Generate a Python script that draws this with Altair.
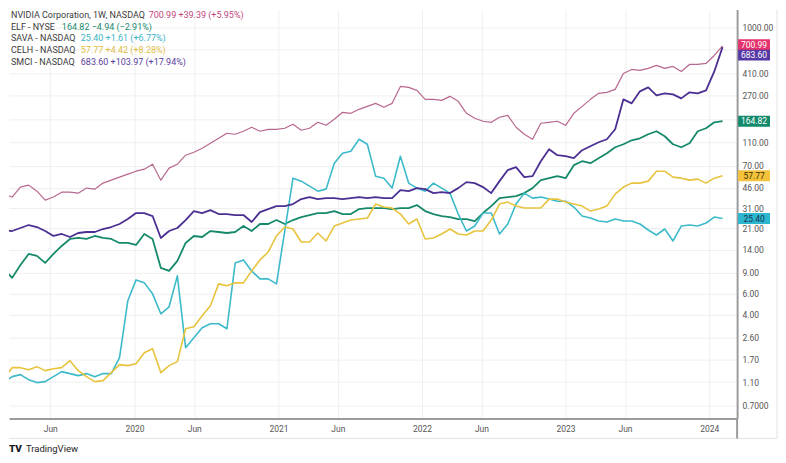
import altair as alt
import pandas as pd

# ---------------- data (weekly chart, sampled every 3 weeks) ----------------
dates = pd.date_range("2019-02-03", periods=88, freq="21D").strftime("%Y-%m-%dT00:00:00Z").tolist()

nvda = [40.6, 38.4, 46.5, 48.3, 43.0, 36.2, 38.4, 42.2, 42.2, 41.4,
        45.6, 44.7, 50.2, 53.1, 56.3, 59.6, 63.1, 65.6, 72.2, 53.1,
        66.9, 72.2, 85.8, 90.9, 98.1, 108.0, 118.8, 130.8, 128.3, 135.9,
        146.7, 135.9, 141.1, 141.1, 143.9, 155.4, 138.5, 143.9, 161.4, 152.4,
        171.0, 195.5, 191.8, 207.1, 219.3, 232.3, 215.2, 232.3, 321.7, 315.6,
        298.0, 250.8, 250.8, 246.1, 265.7, 241.4, 191.8, 174.3, 164.6, 161.4,
        177.7, 184.6, 146.7, 128.3, 116.6, 158.4, 161.4, 164.6, 152.4, 191.8,
        219.3, 250.8, 281.4, 287.0, 303.8, 412.7, 445.7, 437.1, 454.2, 481.1,
        454.2, 472.0, 428.8, 490.3, 490.3, 499.8, 582.6, 700.99]

elf = [9.66, 8.13, 10.43, 12.88, 12.40, 10.84, 12.88, 15.01, 17.17, 17.50,
       17.17, 18.18, 17.50, 17.17, 15.90, 15.90, 15.30, 18.89, 17.17, 9.85,
       9.30, 11.26, 15.90, 18.18, 17.83, 20.00, 19.63, 19.25, 19.63, 22.02,
       20.00, 22.88, 22.88, 24.70, 22.88, 24.70, 26.16, 27.18, 28.24, 28.24,
       29.34, 27.71, 27.71, 30.49, 31.08, 31.08, 31.08, 30.49, 31.08, 31.08,
       32.92, 29.34, 27.71, 26.67, 26.16, 25.18, 25.18, 24.23, 28.24, 32.29,
       37.64, 38.38, 39.12, 41.43, 45.60, 53.14, 55.21, 57.37, 55.21, 70.83,
       76.45, 73.57, 80.99, 89.13, 100.0, 105.9, 114.3, 118.8, 128.3, 135.9,
       123.5, 105.9, 100.0, 108.0, 135.9, 143.9, 161.4, 164.82]

sava = [1.088, 1.220, 1.268, 1.152, 1.088, 1.109, 1.220, 1.343, 1.293, 1.244,
        1.293, 1.220, 1.293, 1.293, 1.757, 5.234, 7.825, 7.390, 5.984, 4.080,
        4.667, 8.448, 2.127, 2.576, 3.120, 3.369, 3.369, 3.061, 10.84, 11.48,
        9.297, 7.977, 7.977, 7.250, 20.00, 55.21, 52.14, 47.37, 43.0, 44.7,
        73.57, 89.13, 92.6, 116.6, 105.9, 57.37, 55.21, 45.6, 84.17, 50.2,
        45.6, 43.0, 50.2, 45.6, 41.43, 27.71, 20.00, 22.02, 28.24, 28.24,
        18.89, 22.88, 33.55, 41.43, 37.64, 38.38, 36.93, 35.48, 35.48, 31.68,
        26.67, 25.66, 24.23, 23.77, 25.18, 24.23, 24.23, 22.88, 20.39, 18.53,
        20.79, 16.52, 22.02, 22.44, 22.02, 23.33, 26.16, 25.40]

celh = [1.175, 1.450, 1.450, 1.395, 1.478, 1.369, 1.422, 1.450, 1.658, 1.369,
        1.220, 1.109, 1.130, 1.318, 1.536, 1.507, 1.565, 1.932, 2.086, 1.318,
        1.507, 1.627, 3.061, 3.180, 3.926, 4.755, 7.250, 6.978, 7.390, 7.390,
        9.297, 11.48, 13.38, 18.18, 21.60, 20.79, 16.20, 16.20, 19.25, 16.52,
        22.02, 23.33, 24.70, 25.18, 25.66, 33.55, 31.68, 31.08, 27.71, 22.88,
        25.18, 17.17, 17.50, 18.89, 20.79, 18.89, 18.53, 20.00, 20.00, 24.70,
        33.55, 34.86, 32.29, 31.08, 31.08, 31.08, 36.93, 36.93, 34.86, 33.55,
        32.29, 29.34, 30.49, 32.29, 40.64, 46.5, 50.2, 50.2, 52.14, 63.1,
        63.1, 56.3, 55.21, 53.14, 54.17, 50.2, 55.21, 57.77]

smci = [20.39, 20.00, 21.19, 22.44, 21.60, 20.00, 18.18, 18.89, 17.83, 19.25,
        19.63, 19.63, 20.79, 21.60, 22.88, 25.18, 28.24, 28.24, 26.67, 17.50,
        20.00, 21.19, 24.70, 29.34, 28.24, 29.91, 27.71, 27.71, 27.18, 27.18,
        23.77, 28.79, 30.49, 32.29, 32.29, 33.55, 36.93, 38.38, 36.93, 37.64,
        37.64, 36.93, 37.64, 38.38, 37.64, 38.38, 37.64, 37.64, 43.87, 43.0,
        45.60, 44.7, 41.43, 42.2, 41.43, 45.60, 51.16, 50.2, 46.5, 41.43,
        52.14, 64.5, 68.2, 56.3, 57.4, 76.45, 96.24, 85.8, 84.17, 80.99,
        94.41, 101.9, 110.0, 116.6, 141.1, 250.8, 232.3, 292.4, 315.6, 270.7,
        281.4, 276.0, 255.6, 287.0, 281.4, 298.0, 428.8, 683.60]

legend_names = ["NVIDIA Corporation, 1W, NASDAQ", "ELF - NYSE", "SAVA - NASDAQ",
                "CELH - NASDAQ", "SMCI - NASDAQ"]
legend_values = ["700.99  +39.39 (+5.95%)", "164.82  \u22124.94 (\u22122.91%)",
                 "25.40  +1.61 (+6.77%)", "57.77  +4.42 (+8.28%)",
                 "683.60  +103.97 (+17.94%)"]
last_prices = [700.99, 164.82, 25.40, 57.77, 683.60]

price_ticks = [1000, 650, 410, 270, 170, 110, 70, 46, 31, 21, 14, 9, 6, 4, 2.6, 1.7, 1.1, 0.7]
date_ticks = [(2019, 6), (2020, 1), (2020, 6), (2021, 1), (2021, 6), (2022, 1),
              (2022, 6), (2023, 1), (2023, 6), (2024, 1)]

# ---------------- styling ----------------
W, H = 730, 410
FONT = "Roboto, sans-serif"
series = [  # values, line colour, width, legend colour, box fill, box text colour
    (nvda, "#b8688f", 1.2, "#c4457d", "#e5336d", "#ffffff"),
    (elf, "#17896b", 1.8, "#1a8a6e", "#138a6b", "#ffffff"),
    (sava, "#3dbaca", 1.6, "#3ab4c6", "#2ab7cf", "#17324f"),
    (celh, "#e7c33e", 1.6, "#e0bd45", "#f4c33b", "#3a2e00"),
    (smci, "#4b2f92", 1.8, "#5a3c9c", "#5637a6", "#ffffff"),
]
box_dy = [-1, 0, 0, 0, 8]
legend_x = [140, 53, 72, 72, 72]

x_enc = alt.X(
    "date:T",
    scale=alt.Scale(type="utc",
                    domain=[alt.DateTime(year=2019, month=2, date=16, utc=True),
                            alt.DateTime(year=2024, month=3, date=12, utc=True)]),
    axis=alt.Axis(
        values=[alt.DateTime(year=y, month=m, date=1, utc=True) for y, m in date_ticks],
        labelExpr="utcFormat(datum.value, '%m') == '01' ? utcFormat(datum.value, '%Y') : utcFormat(datum.value, '%b')",
        title=None, grid=True, gridColor="#efefef", gridWidth=1,
        domainColor="#9c9c9c", domainWidth=2, ticks=False, labelPadding=6,
        labelFont=FONT, labelFontSize=8.5, labelColor="#555555", labelFlush=False,
    ),
)
y_enc = alt.Y(
    "value:Q",
    scale=alt.Scale(type="log", domain=[0.5459, 1406.6], nice=False, zero=False),
    axis=alt.Axis(
        orient="right", values=price_ticks,
        labelExpr="indexof([650,170], datum.value) >= 0 ? '' : (datum.value < 1 ? format(datum.value, '.4f') : format(datum.value, '.2f'))",
        title=None, grid=True, gridColor="#efefef", gridWidth=1,
        domainColor="#9c9c9c", domainWidth=2, ticks=False, labelPadding=5,
        labelFont=FONT, labelFontSize=8.5, labelColor="#555555", labelAlign="left",
        labelBaseline="middle", labelFlush=False, labelOverlap=False,
    ),
)

layers = []
for vals, lc, lw, _, _, _ in series:
    df = pd.DataFrame({"date": dates, "value": vals})
    layers.append(alt.Chart(df).mark_line(color=lc, strokeWidth=lw, clip=True,
                                          strokeJoin="round").encode(x=x_enc, y=y_enc))

# price boxes on the right scale
for (vals, _, _, _, fill, tcol), price, dy in zip(series, last_prices, box_dy):
    dfl = pd.DataFrame({"value": [price], "label": [f"{price:.2f}"]})
    layers.append(alt.Chart(dfl).mark_tick(orient="horizontal", size=32, thickness=11,
                                           color=fill, opacity=1, yOffset=dy)
                  .encode(y=y_enc, x=alt.value(747)))
    layers.append(alt.Chart(dfl).mark_text(color=tcol, fontSize=8.5, font=FONT, dy=dy,
                                           align="center", baseline="middle")
                  .encode(y=y_enc, x=alt.value(747), text="label:N"))

# legend (top left)
for i, (nm, vt, s, lx) in enumerate(zip(legend_names, legend_values, series, legend_x)):
    dname = pd.DataFrame({"t": [nm]})
    dval = pd.DataFrame({"t": [vt]})
    ypx = 5 + 12 * i
    layers.append(alt.Chart(dname).mark_text(align="left", baseline="middle", fontSize=9,
                                             font=FONT, color="#3c3c3c")
                  .encode(x=alt.value(2), y=alt.value(ypx), text="t:N"))
    layers.append(alt.Chart(dval).mark_text(align="left", baseline="middle", fontSize=9,
                                            font=FONT, color=s[3])
                  .encode(x=alt.value(lx), y=alt.value(ypx), text="t:N"))

# frame pieces
frame = pd.DataFrame({"k": [0]})
layers.append(alt.Chart(frame).mark_rule(color="#e3e3e3", strokeWidth=1)
              .encode(x=alt.value(0), x2=alt.value(770), y=alt.value(430)))
layers.append(alt.Chart(frame).mark_rule(color="#e3e3e3", strokeWidth=1)
              .encode(x=alt.value(770), y=alt.value(0), y2=alt.value(430)))
layers.append(alt.Chart(frame).mark_rule(color="#9c9c9c", strokeWidth=2)
              .encode(x=alt.value(730), y=alt.value(410), y2=alt.value(430)))

# TradingView mark
layers.append(alt.Chart(pd.DataFrame({"t": ["TV"]})).mark_text(
    align="left", baseline="middle", fontSize=10, font="Roboto", fontWeight=900, color="#131722")
    .encode(x=alt.value(0), y=alt.value(441), text="t:N"))
layers.append(alt.Chart(pd.DataFrame({"t": ["TradingView"]})).mark_text(
    align="left", baseline="middle", fontSize=9.5, font=FONT, color="#222222")
    .encode(x=alt.value(17), y=alt.value(441), text="t:N"))

chart = (
    alt.layer(*layers)
    .properties(width=W, height=H, padding=0, background="white")
    .configure_view(strokeWidth=0)
)

chart.save("out.html", embed_options={"renderer": "svg", "actions": False})
